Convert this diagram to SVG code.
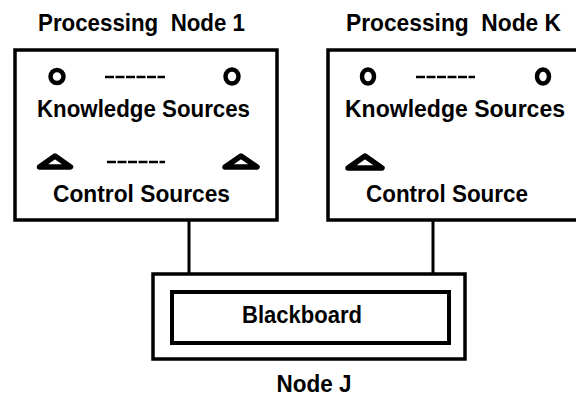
<svg xmlns="http://www.w3.org/2000/svg" width="576" height="396" viewBox="0 0 576 396">
  <style>
    .box { fill: #fff; stroke: #000; stroke-width: 3.5; }
    .inner { fill: #fff; stroke: #000; stroke-width: 4; }
    .lbl { font-family: "Liberation Sans", Arial, sans-serif; font-weight: bold; font-size: 23.5px; fill: #000; text-anchor: middle; }
    .ks { fill: none; stroke: #000; stroke-width: 4.5; }
    .cs { fill: none; stroke: #000; stroke-width: 5.5; stroke-linejoin: round; }
    .dash { stroke: #000; stroke-width: 2.5; stroke-dasharray: 9 1.5; }
    .wire { stroke: #000; stroke-width: 3; fill: none; }
  </style>

  <!-- links from the processing nodes down to node J -->
  <g id="connectors">
    <line class="wire" x1="189" y1="220" x2="189" y2="274"/>
    <line class="wire" x1="433" y1="220" x2="433" y2="274"/>
  </g>

  <!-- processing node 1 -->
  <g id="node1">
    <text class="lbl" x="141.5" y="31" textLength="207" lengthAdjust="spacingAndGlyphs" xml:space="preserve">Processing  Node 1</text>
    <rect class="box" x="15" y="50" width="262" height="170"/>
    <ellipse class="ks" cx="57" cy="76.5" rx="6.5" ry="6.5"/>
    <line class="dash" x1="105" y1="77" x2="165" y2="77"/>
    <ellipse class="ks" cx="232" cy="76.5" rx="6.5" ry="7"/>
    <text class="lbl" x="143.5" y="117" textLength="213" lengthAdjust="spacingAndGlyphs">Knowledge Sources</text>
    <path class="cs" d="M39.5,167 L55,156 L70.5,167 Z"/>
    <line class="dash" x1="107" y1="162" x2="165" y2="162"/>
    <path class="cs" d="M225,167 L241,156 L257,167 Z"/>
    <text class="lbl" x="141.5" y="202" textLength="177" lengthAdjust="spacingAndGlyphs">Control Sources</text>
  </g>

  <!-- processing node K -->
  <g id="nodeK">
    <text class="lbl" x="453.5" y="31" textLength="215" lengthAdjust="spacingAndGlyphs" xml:space="preserve">Processing  Node K</text>
    <rect class="box" x="328" y="50" width="260" height="170"/>
    <ellipse class="ks" cx="368" cy="76.5" rx="6" ry="7"/>
    <line class="dash" x1="416" y1="77" x2="475" y2="77"/>
    <ellipse class="ks" cx="543" cy="76.5" rx="6" ry="7"/>
    <text class="lbl" x="455" y="117" textLength="220" lengthAdjust="spacingAndGlyphs">Knowledge Sources</text>
    <path class="cs" d="M348,168 L365,156 L382,168 Z"/>
    <text class="lbl" x="447" y="202" textLength="162" lengthAdjust="spacingAndGlyphs">Control Source</text>
  </g>

  <!-- node J holding the blackboard -->
  <g id="nodeJ">
    <rect class="box" x="153" y="274" width="312" height="85"/>
    <rect class="inner" x="172" y="292" width="277" height="51"/>
    <text class="lbl" x="302" y="323" textLength="120" lengthAdjust="spacingAndGlyphs">Blackboard</text>
    <text class="lbl" x="314" y="392" textLength="75" lengthAdjust="spacingAndGlyphs">Node J</text>
  </g>
</svg>
